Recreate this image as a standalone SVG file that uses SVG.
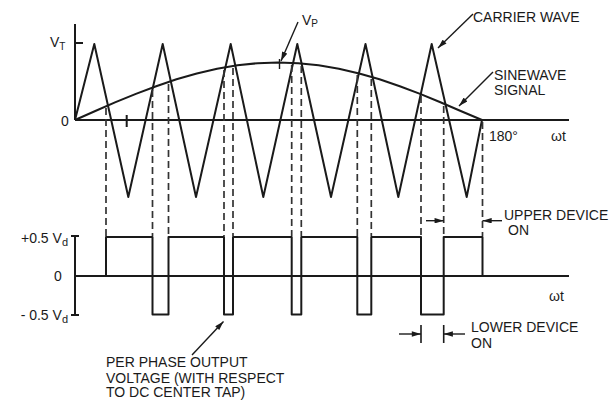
<svg xmlns="http://www.w3.org/2000/svg" width="614" height="403" viewBox="0 0 614 403">
<style>
  .ln{fill:none;stroke:#1a1a1a;stroke-width:2;stroke-linejoin:round;stroke-linecap:butt}
  .thin{fill:none;stroke:#1a1a1a;stroke-width:1.6}
  .dash{fill:none;stroke:#333;stroke-width:1.7;stroke-dasharray:7 4}
  .lead{fill:none;stroke:#1a1a1a;stroke-width:1.4}
  text{font-family:"Liberation Sans",Arial,sans-serif;font-size:14px;fill:#1a1a1a}
</style>
<defs>
  <marker id="ah" viewBox="0 0 10 6" refX="10" refY="3" markerWidth="10" markerHeight="5.5" orient="auto" markerUnits="userSpaceOnUse">
    <path d="M0,0 L10,3 L0,6 z" fill="#1a1a1a"/>
  </marker>
</defs>
<rect width="614" height="403" fill="#fff"/>

<g id="upper-plot">
  <path class="ln" d="M75,24 V120 M75,120 H569 M75,43 H83 M126.7,115 V127"/>
  <polyline id="carrier-wave" class="ln" points="75,120 94.3,44 128.3,197 162.7,44 196,197 230.7,44 263.3,197 297.3,44 331,197 365.5,44 398.3,197 431.7,44 466.7,197 482,120"/>
  <polyline id="sinewave" class="ln" points="75,120 95.3,111 115.6,102.2 135.9,93.9 156.2,86.2 176.5,79.3 196.8,73.5 217.1,68.8 237.4,65.3 257.7,63.2 278,62.5 298.3,63.2 318.6,65.3 338.9,68.8 359.2,73.5 379.5,79.3 399.8,86.2 420.1,93.9 440.4,102.2 460.7,111 482,120"/>
  <text x="50" y="47">V<tspan font-size="10" dy="3">T</tspan></text>
  <text x="61" y="126">0</text>
  <text x="489" y="141">180°</text>
  <text x="551" y="141">ωt</text>
</g>

<g id="lower-plot">
  <path class="ln" d="M75,236 V315 M71,236 H79 M71,315 H79 M75,276 H569"/>
  <path id="output-voltage" class="ln" d="M106,276 V237 H152.5 V314.5 H168.5 V237 H224 V314.5 H233 V237 H291.7 V314.5 H301.3 V237 H357.3 V314.5 H371.3 V237 H421 V314.5 H443.7 V237 H482.5 V276"/>
  <text x="68" y="243" text-anchor="end" font-size="15">+0.5 V<tspan font-size="11" dy="3">d</tspan></text>
  <text x="54" y="281">0</text>
  <text x="68" y="320" text-anchor="end" font-size="15">- 0.5 V<tspan font-size="11" dy="3">d</tspan></text>
  <text x="549" y="301">ωt</text>
</g>

<g id="connectors">
  <path class="dash" d="M106,108 V236 M152.5,90 V236 M168.5,84 V236 M224,70 V236 M233,68 V236 M291.7,65 V236 M301.3,66 V236 M357.3,75 V236 M371.3,79 V236 M421,96 V236 M443.7,106 V236 M482.5,122 V236"/>
  <line class="lead" x1="473" y1="14" x2="438" y2="48" marker-end="url(#ah)"/>
  <line class="lead" x1="493" y1="72" x2="459" y2="106" marker-end="url(#ah)"/>
  <line class="lead" x1="298" y1="22" x2="281" y2="61" marker-end="url(#ah)"/>
  <line class="lead" x1="279.5" y1="59" x2="279.5" y2="69"/>
  <line class="lead" x1="192" y1="355" x2="223.5" y2="321.5" marker-end="url(#ah)"/>
  <line class="lead" x1="426" y1="220.7" x2="443.7" y2="220.7" marker-end="url(#ah)"/>
  <line class="lead" x1="502" y1="220.7" x2="482.5" y2="220.7" marker-end="url(#ah)"/>
  <line class="lead" x1="399" y1="334" x2="421" y2="334" marker-end="url(#ah)"/>
  <line class="lead" x1="465" y1="334" x2="443.7" y2="334" marker-end="url(#ah)"/>
  <path class="thin" d="M421,325 V343 M443.7,325 V343"/>
</g>

<g id="labels">
  <text x="302" y="25" font-size="15">V<tspan font-size="10" dy="2">P</tspan></text>
  <text x="473" y="22">CARRIER WAVE</text>
  <text x="494" y="80">SINEWAVE</text>
  <text x="494" y="95">SIGNAL</text>
  <text x="504" y="220">UPPER DEVICE</text>
  <text x="508" y="235">ON</text>
  <text x="471" y="332">LOWER DEVICE</text>
  <text x="471" y="348">ON</text>
  <text x="106" y="367">PER PHASE OUTPUT</text>
  <text x="106" y="382.5">VOLTAGE (WITH RESPECT</text>
  <text x="106" y="397">TO DC CENTER TAP)</text>
</g>
</svg>
